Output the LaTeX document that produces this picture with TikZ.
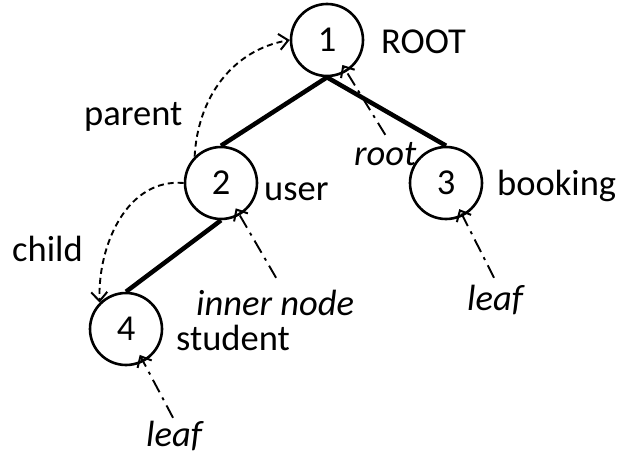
\documentclass[tikz,border=0pt]{standalone}
\usepackage{fontspec}
\setmainfont{Carlito}
\usetikzlibrary{arrows.meta}
\tikzset{
  every node/.style={font=\fontsize{36.5}{42}\selectfont},
  tnode/.style={circle,draw,line width=2.6pt,minimum size=72pt,inner sep=0pt},
  lbl/.style={anchor=base west,inner sep=0pt},
  ilbl/.style={anchor=base west,inner sep=0pt,text height=27pt,text depth=7pt,font=\fontsize{36.5}{42}\selectfont\itshape},
  edge/.style={line width=4.5pt},
  barb/.style={-{Straight Barb[length=9pt,width=16pt,line width=2pt]}},
  dasharrow/.style={barb,line width=1.9pt,dash pattern=on 6pt off 4pt},
  dotarrow/.style={barb,line width=1.9pt,dash pattern=on 14pt off 6pt on 3pt off 6pt,shorten >=-8pt}
}
\begin{document}
\begin{tikzpicture}[x=1pt,y=1pt]
\useasboundingbox (0,0) rectangle (623,459);
% tree nodes
\node[tnode] (n1) at (327,419) {1};
\node[tnode] (n2) at (221,276) {2};
\node[tnode] (n3) at (446,276) {3};
\node[tnode] (n4) at (126,130) {4};
% edges
\draw[edge] (n1.south) -- (n2.north);
\draw[edge] (n1.south) -- (n3.north);
\draw[edge] (n2.south) -- (n4.north);
% plain labels
\node[lbl] (lroot) at (381,406) {ROOT};
\node[lbl] (luser) at (264,259) {user};
\node[lbl] (lbook) at (497,264) {booking};
\node[lbl] (lstud) at (176,109) {student};
\node[lbl] (lpar) at (84,334) {parent};
\node[lbl] (lchild) at (12,198) {child};
% italic labels
\node[ilbl] (iroot) at (354,294) {root};
\node[ilbl] (iinner) at (196,144) {inner node};
\node[ilbl] (ileafa) at (467,149) {leaf};
\node[ilbl] (ileafb) at (146,13) {leaf};
% parent / child arrows
\draw[dasharrow] (n2.north west) to[out=87,in=190] (n1.west);
\draw[dasharrow] (n2.west) to[out=175,in=92] (n4.north west);
% dash-dot arrows
\draw[dotarrow] ([shift={(0pt,3pt)}]iroot.north) -- (n1);
\draw[dotarrow] ([shift={(1pt,10pt)}]iinner.north) -- (n2);
\draw[dotarrow] ([shift={(-1pt,5pt)}]ileafa.north) -- (n3);
\draw[dotarrow] ([shift={(-1pt,1pt)}]ileafb.north) -- (n4);
\end{tikzpicture}
\end{document}
